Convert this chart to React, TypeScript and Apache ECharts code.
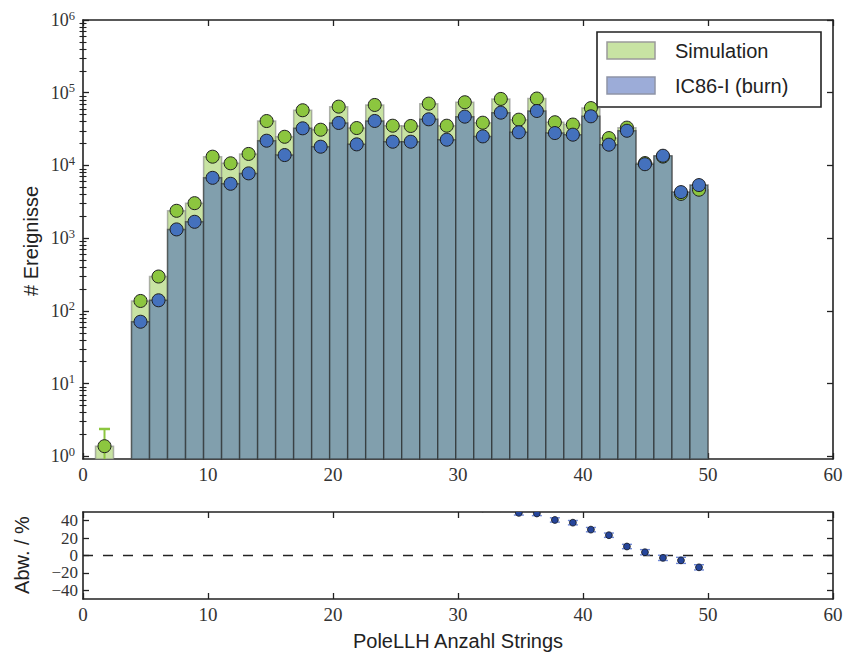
import { useEffect, useRef } from "react";
import * as echarts from "echarts";

// Histogram binning of the PoleLLH string count
const BIN_LO = 1;
const BIN_HI = 50;
const N_BINS = 34;

// Event counts per bin (null = empty bin)
const simulation: (number | null)[] = [
  1.38, null, 137, 297, 2380, 3030, 13200, 10700, 14400, 40800, 24800, 57400,
  31000, 64400, 32700, 67900, 35200, 34900, 70800, 35200, 74000, 38700, 82200,
  42600, 83200, 39300, 36500, 61500, 23800, 33100, 10790, 13230, 4060, 4640,
];
const ic86: (number | null)[] = [
  null, null, 71, 140, 1320, 1680, 6760, 5600, 7780, 21900, 13900, 32400,
  18100, 38400, 19500, 40900, 21200, 21200, 43100, 22600, 46900, 25100, 53200,
  28600, 56100, 27900, 26500, 47400, 19300, 30000, 10400, 13600, 4300, 5370,
];
// Uncertainty of the relative deviation in percent
const deviationErr: number[] = [
  3, 3, 3, 3, 3, 3, 3, 3, 3, 3, 3, 3, 3, 3, 3, 3, 3, 3, 3, 3, 3, 3, 3,
  2.5, 2.5, 2.5, 2.5, 2.5, 2.5, 2.5, 3, 3, 3.5, 3,
];
// Upper uncertainty of the simulated lowest bin
const firstBinErr = 1.0;

const xTicks = [0, 10, 20, 30, 40, 50, 60];
const decadeTicks = [0, 1, 2, 3, 4, 5, 6];
const deviationTicks = [-40, -20, 0, 20, 40];

const COUNT_FLOOR = 0.92; // lower edge of the count axis
const LOG_MIN = Math.log10(COUNT_FLOOR);
const LOG_MAX = 6;

const SERIF = "Liberation Serif";
const SANS = "Liberation Sans";
const FRAME = "#222";
const TXT = "#333";

const binWidth = (BIN_HI - BIN_LO) / N_BINS;
const edge = (i: number) => BIN_LO + i * binWidth;
const center = (i: number) => BIN_LO + (i + 0.5) * binWidth;

const minorTicks: number[] = [];
for (let d = 0; d < 6; d++) {
  for (let k = 2; k <= 9; k++) minorTicks.push(d + Math.log10(k));
}

function barData(values: (number | null)[]) {
  const out: number[][] = [];
  values.forEach((v, i) => {
    if (v != null) out.push([edge(i), edge(i + 1), Math.log10(v)]);
  });
  return out;
}

function markerData(values: (number | null)[]) {
  const out: number[][] = [];
  values.forEach((v, i) => {
    if (v != null) out.push([center(i), Math.log10(v)]);
  });
  return out;
}

function deviationData() {
  const out: number[][] = [];
  simulation.forEach((s, i) => {
    const d = ic86[i];
    if (s != null && d != null) out.push([center(i), ((s - d) / d) * 100, deviationErr[i]]);
  });
  return out;
}

function barRenderer(fill: string, stroke: string) {
  return (_params: any, api: any) => {
    const p0 = api.coord([api.value(0), api.value(2)]);
    const p1 = api.coord([api.value(1), LOG_MIN]);
    return {
      type: "rect",
      shape: { x: p0[0], y: p0[1], width: p1[0] - p0[0], height: p1[1] - p0[1] },
      style: { fill, stroke, lineWidth: 1.5 },
    };
  };
}

const frameLine = { show: true, onZero: false, lineStyle: { color: FRAME, width: 1.6 } };
const majorTick = { show: true, inside: true, length: 6, lineStyle: { color: FRAME, width: 1.3 } };

function xAxes(gridIndex: number) {
  const base = {
    gridIndex,
    type: "value" as const,
    min: 0,
    max: 60,
    splitLine: { show: false },
    axisLine: frameLine,
    axisTick: { ...majorTick, customValues: xTicks },
  };
  return [
    {
      ...base,
      position: "bottom",
      axisLabel: { customValues: xTicks, fontFamily: SERIF, fontSize: 19, color: TXT, margin: 6 },
    },
    { ...base, position: "top", axisLabel: { show: false } },
  ];
}

export default function App() {
  const ref = useRef<HTMLDivElement>(null);

  useEffect(() => {
    if (!ref.current) return;
    const chart = echarts.init(ref.current, null, { renderer: "svg" });

    const logAxisBase = {
      gridIndex: 0,
      type: "value" as const,
      min: LOG_MIN,
      max: LOG_MAX,
      splitLine: { show: false },
    };
    const devAxisBase = {
      gridIndex: 1,
      type: "value" as const,
      min: -50,
      max: 50,
      splitLine: { show: false },
      axisLine: frameLine,
    };
    const minorTick = {
      show: true,
      inside: true,
      length: 3.5,
      customValues: minorTicks,
      lineStyle: { color: FRAME, width: 1.1 },
    };

    chart.setOption({
      animation: false,
      backgroundColor: "#fff",
      grid: [
        { left: 83, top: 20, width: 750, height: 439 },
        { left: 83, top: 512, width: 750, height: 87 },
      ],
      xAxis: [...xAxes(0), ...xAxes(1)],
      yAxis: [
        {
          ...logAxisBase,
          position: "left",
          axisLine: frameLine,
          axisTick: { ...majorTick, customValues: decadeTicks },
          axisLabel: {
            customValues: decadeTicks,
            margin: 8,
            formatter: (v: number) => `{b|10}{s|${Math.round(v)}}`,
            rich: {
              b: { fontFamily: SERIF, fontSize: 18, color: TXT, lineHeight: 22 },
              s: { fontFamily: SERIF, fontSize: 12.5, color: TXT, lineHeight: 12, verticalAlign: "top" },
            },
          },
        },
        {
          ...logAxisBase,
          position: "right",
          axisLine: frameLine,
          axisTick: { ...majorTick, customValues: decadeTicks },
          axisLabel: { show: false },
        },
        {
          ...logAxisBase,
          position: "left",
          axisLine: { show: false },
          axisTick: minorTick,
          axisLabel: { show: false },
        },
        {
          ...logAxisBase,
          position: "right",
          axisLine: { show: false },
          axisTick: minorTick,
          axisLabel: { show: false },
        },
        {
          ...devAxisBase,
          position: "left",
          axisTick: { ...majorTick, customValues: deviationTicks },
          axisLabel: {
            customValues: deviationTicks,
            interval: 0,
            hideOverlap: false,
            margin: 5,
            fontFamily: SERIF,
            fontSize: 17,
            lineHeight: 16,
            color: TXT,
            formatter: (v: number) => (v < 0 ? `\u2212${Math.abs(v)}` : `${v}`),
          },
        },
        {
          ...devAxisBase,
          position: "right",
          axisTick: { ...majorTick, customValues: deviationTicks },
          axisLabel: { show: false },
        },
      ],
      series: [
        {
          type: "custom",
          name: "Simulation",
          xAxisIndex: 0,
          yAxisIndex: 0,
          z: 1,
          encode: { x: [0, 1], y: 2 },
          data: barData(simulation),
          renderItem: barRenderer("#c8e3a3", "rgba(120,120,120,0.55)"),
        },
        {
          type: "custom",
          name: "IC86-I (burn)",
          xAxisIndex: 0,
          yAxisIndex: 0,
          z: 2,
          encode: { x: [0, 1], y: 2 },
          data: barData(ic86),
          renderItem: barRenderer("#819fad", "rgba(30,30,30,0.55)"),
        },
        {
          // error bar of the lowest simulated bin
          type: "custom",
          xAxisIndex: 0,
          yAxisIndex: 0,
          z: 3,
          clip: true,
          encode: { x: 0, y: [1, 2] },
          data: [[center(0), Math.log10(simulation[0] as number), firstBinErr]],
          renderItem: (_p: any, api: any) => {
            const x = api.value(0);
            const v = Math.pow(10, api.value(1));
            const e = api.value(2);
            const top = api.coord([x, Math.log10(v + e)]);
            const bot = api.coord([x, Math.max(Math.log10(Math.max(v - e, 1e-3)), LOG_MIN - 1)]);
            const st = { stroke: "#8cc63f", lineWidth: 2 };
            return {
              type: "group",
              children: [
                { type: "line", shape: { x1: top[0], y1: top[1], x2: bot[0], y2: bot[1] }, style: st },
                { type: "line", shape: { x1: top[0] - 5.5, y1: top[1], x2: top[0] + 5.5, y2: top[1] }, style: { ...st, lineWidth: 2.5 } },
              ],
            };
          },
        },
        {
          type: "scatter",
          xAxisIndex: 0,
          yAxisIndex: 0,
          z: 4,
          symbol: "circle",
          symbolSize: 13,
          itemStyle: { color: "#8cc63f", borderColor: "#1e1e1e", borderWidth: 1, opacity: 1 },
          data: markerData(simulation),
        },
        {
          type: "scatter",
          xAxisIndex: 0,
          yAxisIndex: 0,
          z: 5,
          symbol: "circle",
          symbolSize: 13,
          itemStyle: { color: "#4471bd", borderColor: "#1e1e1e", borderWidth: 1, opacity: 1 },
          data: markerData(ic86),
        },
        {
          type: "line",
          xAxisIndex: 2,
          yAxisIndex: 4,
          z: 1,
          symbol: "none",
          silent: true,
          lineStyle: { color: "#222", width: 1.5, type: [10, 10] },
          data: [
            [0, 0],
            [60, 0],
          ],
        },
        {
          type: "custom",
          xAxisIndex: 2,
          yAxisIndex: 4,
          z: 3,
          clip: true,
          encode: { x: 0, y: 1 },
          data: deviationData(),
          renderItem: (_p: any, api: any) => {
            const x = api.value(0);
            const r = api.value(1);
            const e = api.value(2);
            const c = api.coord([x, r]);
            const hi = api.coord([x, r + e]);
            const lo = api.coord([x, r - e]);
            const cap = { stroke: "#6f88d6", lineWidth: 1.4 };
            return {
              type: "group",
              children: [
                { type: "line", shape: { x1: c[0], y1: hi[1], x2: c[0], y2: lo[1] }, style: cap },
                { type: "line", shape: { x1: c[0] - 5, y1: hi[1], x2: c[0] + 5, y2: hi[1] }, style: cap },
                { type: "line", shape: { x1: c[0] - 5, y1: lo[1], x2: c[0] + 5, y2: lo[1] }, style: cap },
                { type: "circle", shape: { cx: c[0], cy: c[1], r: 3.4 }, style: { fill: "#25459b", stroke: "#111", lineWidth: 0.8 } },
              ],
            };
          },
        },
      ],
      graphic: [
        {
          type: "group",
          z: 100,
          children: [
            { type: "rect", shape: { x: 597, y: 32, width: 224, height: 75 }, style: { fill: "#fff", stroke: "#222", lineWidth: 1.6 } },
            { type: "rect", shape: { x: 607, y: 42, width: 48, height: 17 }, style: { fill: "#c8e3a3", stroke: "#9a9a9a", lineWidth: 1.5 } },
            { type: "rect", shape: { x: 607, y: 77, width: 48, height: 17 }, style: { fill: "#9cacd8", stroke: "#8e94a6", lineWidth: 1.5 } },
            { type: "text", x: 675, y: 51, style: { text: "Simulation", font: `20px '${SANS}'`, fill: "#222", textVerticalAlign: "middle" } },
            { type: "text", x: 675, y: 86, style: { text: "IC86-I (burn)", font: `20px '${SANS}'`, fill: "#222", textVerticalAlign: "middle" } },
          ],
        },
        {
          type: "text",
          x: 31,
          y: 241,
          rotation: Math.PI / 2,
          style: { text: "# Ereignisse", font: `20px '${SANS}'`, fill: "#222", textAlign: "center", textVerticalAlign: "middle" },
        },
        {
          type: "text",
          x: 22,
          y: 555,
          rotation: Math.PI / 2,
          style: { text: "Abw. / %", font: `20px '${SANS}'`, fill: "#222", textAlign: "center", textVerticalAlign: "middle" },
        },
        {
          type: "text",
          x: 458,
          y: 641,
          style: { text: "PoleLLH Anzahl Strings", font: `20px '${SANS}'`, fill: "#222", textAlign: "center", textVerticalAlign: "middle" },
        },
      ],
    });

    return () => chart.dispose();
  }, []);

  return (
    <div
      ref={ref}
      style={{ position: "fixed", left: 0, top: 0, width: 848, height: 655, background: "#fff" }}
    />
  );
}
